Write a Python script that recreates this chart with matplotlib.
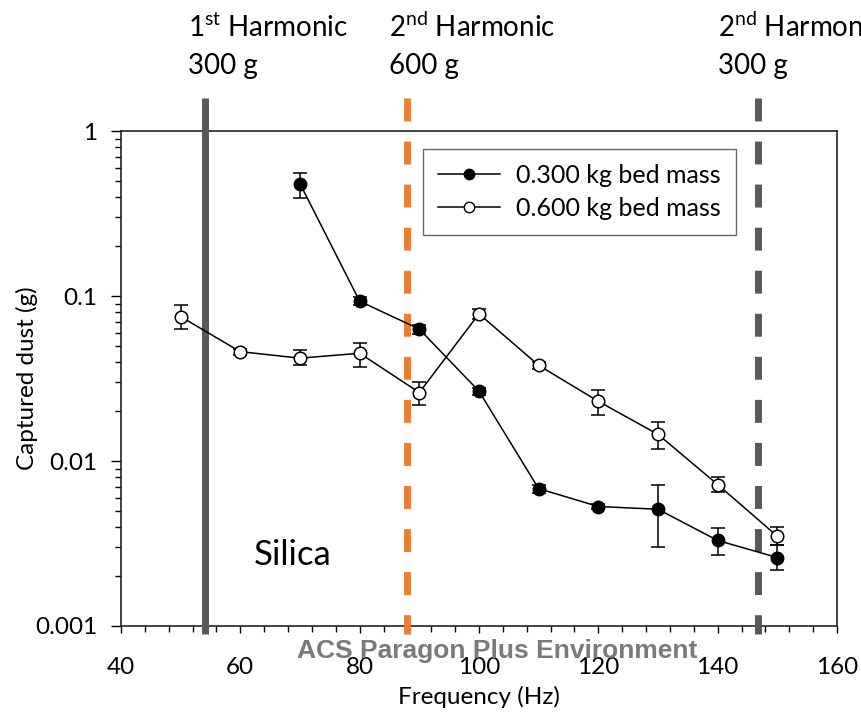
import numpy as np
import matplotlib.pyplot as plt
from matplotlib.lines import Line2D
from matplotlib.ticker import FixedLocator, FuncFormatter, LogLocator

plt.rcParams['font.family'] = ['Lato', 'DejaVu Sans']
plt.rcParams['mathtext.fontset'] = 'custom'
plt.rcParams['mathtext.rm'] = 'Lato'

# 0.300 kg bed mass (filled)
freq_300 = [70, 80, 90, 100, 110, 120, 130, 140, 150]
dust_300 = [0.48, 0.093, 0.063, 0.0265, 0.0068, 0.0053, 0.0051, 0.0033, 0.0026]
hi_300 = [0.56, 0.099, 0.067, 0.0278, 0.0072, 0.0055, 0.0072, 0.0039, 0.0031]
lo_300 = [0.39, 0.088, 0.059, 0.0252, 0.0064, 0.0051, 0.0030, 0.0027, 0.0022]

# 0.600 kg bed mass (open)
freq_600 = [50, 60, 70, 80, 90, 100, 110, 120, 130, 140, 150]
dust_600 = [0.075, 0.046, 0.042, 0.045, 0.026, 0.078, 0.038, 0.023, 0.0145, 0.0072, 0.0035]
hi_600 = [0.088, 0.048, 0.047, 0.052, 0.030, 0.084, 0.040, 0.027, 0.0173, 0.0080, 0.0040]
lo_600 = [0.063, 0.044, 0.038, 0.037, 0.022, 0.073, 0.036, 0.019, 0.0118, 0.0065, 0.0031]

harm_x = [54.1, 87.9, 146.7]
harm_labels = [("1$^{\\rm st}$ Harmonic", "300 g"),
               ("2$^{\\rm nd}$ Harmonic", "600 g"),
               ("2$^{\\rm nd}$ Harmonic", "300 g")]

fig = plt.figure(figsize=(8.61, 7.16), dpi=100)
ax = fig.add_axes([0.1405, 0.1257, 0.8316, 0.6913])

d300 = np.array(dust_300)
d600 = np.array(dust_600)
err300 = [d300 - np.array(lo_300), np.array(hi_300) - d300]
err600 = [d600 - np.array(lo_600), np.array(hi_600) - d600]

ax.errorbar(freq_300, dust_300, yerr=err300, fmt='-o', color='black', mfc='black',
            mec='black', ms=9, lw=1.1, elinewidth=1.1, capsize=5, capthick=1.1, zorder=4)
ax.errorbar(freq_600, dust_600, yerr=err600, fmt='-o', color='black', mfc='white',
            mec='black', ms=9, mew=1.1, lw=1.1, elinewidth=1.1, capsize=5, capthick=1.1,
            zorder=4)

# harmonic lines, drawn top-down past the axes
tr = ax.get_xaxis_transform()
ax.plot([harm_x[0]] * 2, [1.067, -0.016], transform=tr, color='#595959', lw=5,
        clip_on=False, zorder=3, solid_capstyle='butt')
ax.plot([harm_x[1]] * 2, [1.067, -0.016], transform=tr, color='#ED7D31', lw=5,
        clip_on=False, zorder=3, dashes=(3.3, 2.9))
ax.plot([harm_x[2]] * 2, [1.067, -0.016], transform=tr, color='#595959', lw=5,
        clip_on=False, zorder=3, dashes=(3.3, 2.9))

ax.set_yscale('log')
ax.set_xlim(40, 160)
ax.set_ylim(0.001, 1)
ax.xaxis.set_major_locator(FixedLocator([40, 60, 80, 100, 120, 140, 160]))
ax.xaxis.set_minor_locator(FixedLocator(np.arange(40, 161, 4)))
ax.yaxis.set_major_locator(LogLocator(base=10))
ax.yaxis.set_minor_locator(LogLocator(base=10, subs=np.arange(2, 10)))
ax.yaxis.set_major_formatter(FuncFormatter(lambda v, p: '%g' % v))
ax.tick_params(axis='both', which='major', labelsize=17.5, width=1, direction='out')
ax.tick_params(axis='x', which='major', length=5, pad=17)
ax.tick_params(axis='y', which='major', length=7, pad=10)
ax.tick_params(axis='both', which='minor', length=4, width=1, direction='out')
for s in ax.spines.values():
    s.set_linewidth(1.2)
    s.set_color('#222222')

ax.set_xlabel('Frequency (Hz)', fontsize=17.5, va='center')
ax.xaxis.set_label_coords(0.5, -0.143)
ax.set_ylabel('Captured dust (g)', fontsize=17.5, va='center')
ax.yaxis.set_label_coords(-0.131, 0.5)

ax.text(62.2, 0.0027, 'Silica', fontsize=25, va='center')

handles = [Line2D([], [], color='black', lw=1.1, marker='o', ms=7.5, mfc='black', mec='black'),
           Line2D([], [], color='black', lw=1.1, marker='o', ms=7.5, mfc='white', mec='black')]
leg = ax.legend(handles, ['0.300 kg bed mass', '0.600 kg bed mass'], loc='upper left',
                bbox_to_anchor=(0.4218, 0.9636), borderaxespad=0, fontsize=18,
                frameon=True, fancybox=False, edgecolor='#404040', handlelength=2.5,
                handletextpad=0.64, borderpad=0.6, labelspacing=0.4)
leg.get_frame().set_linewidth(1)

xs = [188, 389, 718]
for x, (l1, l2) in zip(xs, harm_labels):
    fig.text(x / 861, 1 - 27 / 716, l1, fontsize=20, va='center', ha='left')
    fig.text(x / 861, 1 - 66 / 716, l2, fontsize=20, va='center', ha='left')

fig.text(497 / 861, 1 - 651 / 716, 'ACS Paragon Plus Environment', fontsize=19,
         fontweight='bold', color='#7a7a7a', ha='center', va='center',
         family='Liberation Sans', zorder=10)

fig.savefig('out.png', dpi=100)
